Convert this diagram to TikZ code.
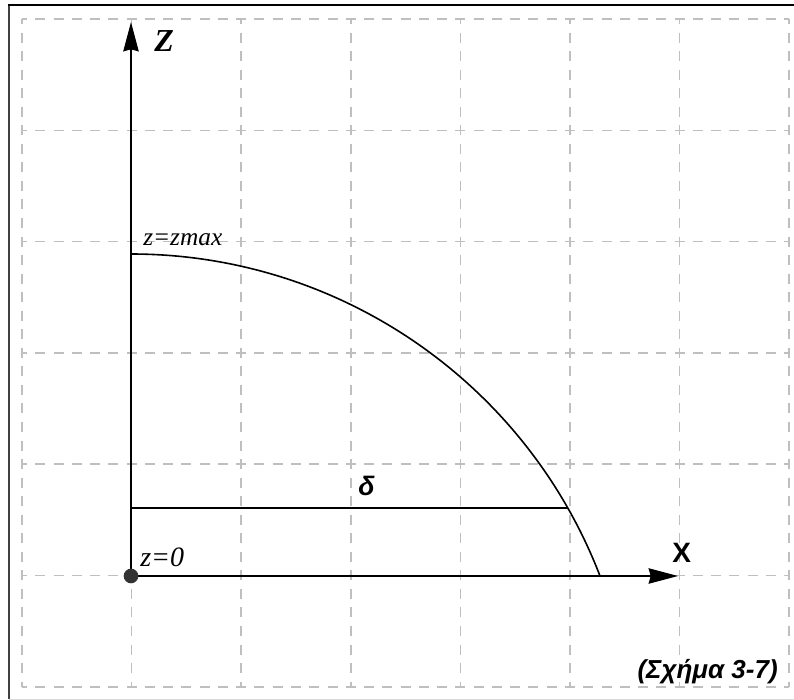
\documentclass[tikz,border=0pt]{standalone}
\usepackage{fontspec}
\setmainfont{Liberation Serif}
\setsansfont{Liberation Sans}
\usetikzlibrary{arrows.meta}

\tikzset{
  gridh/.style={draw=black!25, line width=1.2pt, dash pattern=on 7.5pt off 6.2pt, dash phase=3.75pt},
  gridv/.style={draw=black!25, line width=1.2pt, dash pattern=on 7.5pt off 6.41pt, dash phase=3.75pt},
  axis/.style={line width=1.3pt, -{Stealth[length=22pt,width=11.5pt,inset=1.5pt]}},
  curve/.style={line width=1.2pt},
  dot/.style={circle, fill=black!80, inner sep=0pt, minimum size=11pt},
  lab/.style={inner sep=0pt, anchor=base west},
}

\begin{document}
\begin{tikzpicture}[x=0.75pt,y=-0.75pt]
  \useasboundingbox (0,0) rectangle (794,700);

  % ========== Frame ==========
  \draw[black!15, line width=0.75pt] (9,699) -- (794,699);
  \draw[black!75, line width=1.5pt] (9,699) -- (9,5);
  \draw[black, line width=1.5pt] (8,5) -- (794,5);

  % ========== Grid ==========
  \foreach \i in {0,...,7}
    \draw[gridv] (22+109.6*\i,19) -- (22+109.6*\i,687);
  \foreach \j in {0,...,6}
    \draw[gridh] (22,19+111.3*\j) -- (789,19+111.3*\j);

  % ========== Axes ==========
  \coordinate (O) at (131,576);
  \coordinate (ztip) at (131,22);
  \coordinate (xtip) at (678,576);
  \draw[axis] (O) -- (ztip);
  \draw[axis] (O) -- (xtip);
  \node[dot] (origin) at (O) {};

  \node[lab, font=\bfseries\itshape\fontsize{24}{24}\selectfont] (zlab) at (154,51) {Z};
  \node[lab, font=\sffamily\bfseries\fontsize{21}{21}\selectfont] (xlab) at (672,562) {X};

  % ========== Curve ==========
  \coordinate (ztop) at (131,254);
  \draw[curve] (ztop) arc[start angle=-90, end angle=-21.06, radius=502.6];
  \node[lab, font=\itshape\fontsize{19}{19}\selectfont] (zmax) at (143,245) {z=zmax};
  \node[lab, font=\itshape\fontsize{21}{21}\selectfont] (zzero) at (140,566) {z=0};

  % ========== delta ==========
  \coordinate (dl) at (131,508);
  \coordinate (dr) at (568,508);
  \draw[curve] (dl) -- (dr);
  \node[lab, font=\sffamily\bfseries\itshape\fontsize{20}{20}\selectfont] (delta) at (358,495) {δ};

  % ========== Caption ==========
  \node[inner sep=0pt, anchor=base east, font=\sffamily\bfseries\itshape\fontsize{19.5}{19.5}\selectfont] (cap) at (778,678) {(Σχήμα 3-7)};
\end{tikzpicture}
\end{document}
